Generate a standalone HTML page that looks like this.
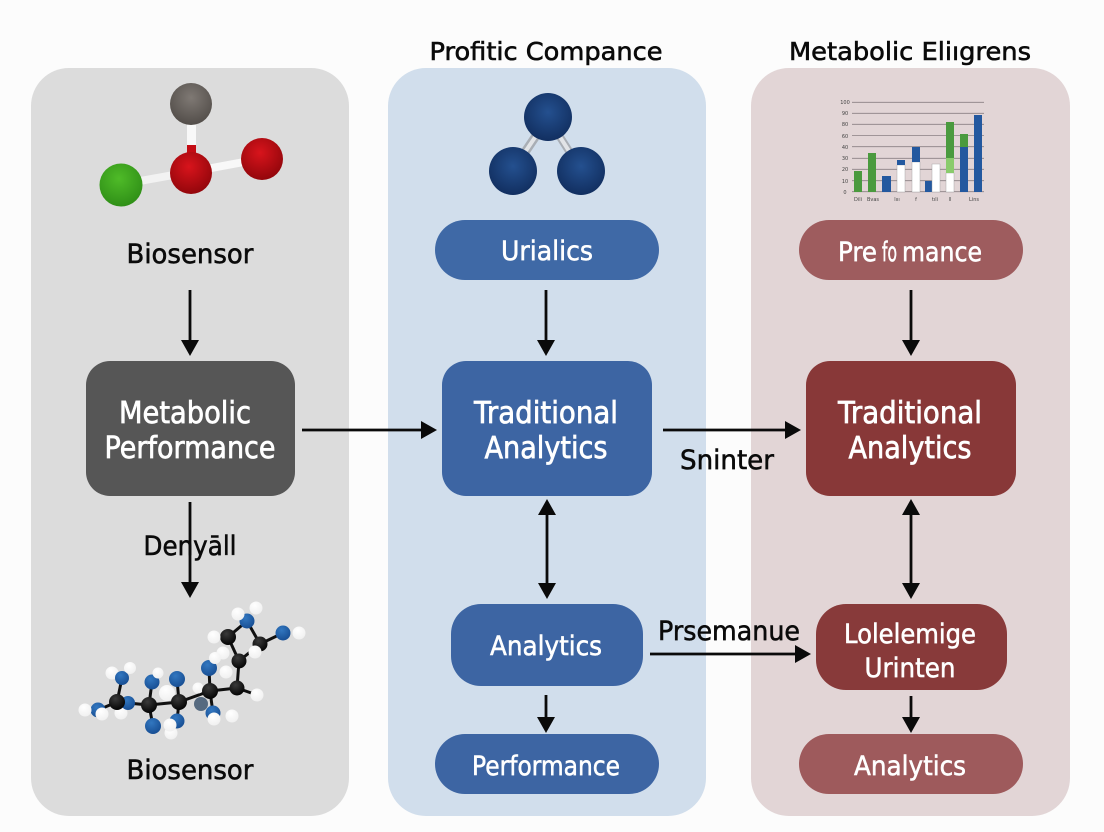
<!DOCTYPE html>
<html>
<head>
<meta charset="utf-8">
<style>
html,body{margin:0;padding:0;background:#fcfcfc;width:1104px;height:832px;overflow:hidden}
svg{display:block}
text{font-family:"DejaVu Sans","Liberation Sans",sans-serif;text-anchor:middle}
.w{fill:#fff;stroke:#fff;stroke-width:.55;font-size:27px}
.wb{fill:#fff;stroke:#fff;stroke-width:.7;font-size:30px}
.k{fill:#0a0a0a;stroke:#0a0a0a;stroke-width:.55;font-size:27px}
.a{stroke:#0a0a0a;stroke-width:2.8;fill:none}
.h{fill:#0a0a0a}
.grid{stroke:#8a8084;stroke-width:.8}
.tick{fill:#444;font-size:5px}
</style>
</head>
<body>
<svg width="1104" height="832" viewBox="0 0 1104 832" xmlns="http://www.w3.org/2000/svg">
<defs>
<radialGradient id="gy" cx=".5" cy=".35" r=".7"><stop offset="0" stop-color="#7f7974"/><stop offset="1" stop-color="#4f4a46"/></radialGradient>
<radialGradient id="rd" cx=".45" cy=".35" r=".7"><stop offset="0" stop-color="#d8141c"/><stop offset="1" stop-color="#8e050a"/></radialGradient>
<radialGradient id="gn" cx=".45" cy=".35" r=".7"><stop offset="0" stop-color="#4fbb28"/><stop offset="1" stop-color="#2d8c16"/></radialGradient>
<radialGradient id="nv" cx=".5" cy=".4" r=".65"><stop offset="0" stop-color="#24508f"/><stop offset="1" stop-color="#102c5c"/></radialGradient>
<radialGradient id="bk" cx=".4" cy=".3" r=".7"><stop offset="0" stop-color="#3a3a3a"/><stop offset="1" stop-color="#050505"/></radialGradient>
<radialGradient id="bl" cx=".4" cy=".3" r=".7"><stop offset="0" stop-color="#3277c0"/><stop offset="1" stop-color="#184f94"/></radialGradient>
<radialGradient id="wh" cx=".4" cy=".3" r=".9"><stop offset="0" stop-color="#fff"/><stop offset="1" stop-color="#ececec"/></radialGradient>
</defs>

<rect x="31" y="68" width="318" height="748" rx="38" fill="#dcdcdc"/>
<rect x="388" y="68" width="318" height="748" rx="38" fill="#d1deec"/>
<rect x="751" y="68" width="319" height="748" rx="38" fill="#e2d5d6"/>

<text x="546" y="60" style="font-size:25px;stroke:#0a0a0a;stroke-width:.6" fill="#0a0a0a" textLength="233" lengthAdjust="spacingAndGlyphs">Profitic Compance</text>
<text x="910" y="60" style="font-size:25px;stroke:#0a0a0a;stroke-width:.6" fill="#0a0a0a" textLength="242" lengthAdjust="spacingAndGlyphs">Metabolic Eliıgrens</text>

<!-- molecule 1 -->
<g>
<line x1="191.500" y1="115" x2="191.500" y2="150" stroke="#f8f8f8" stroke-width="9"/>
<line x1="191.500" y1="145" x2="191.500" y2="158" stroke="#c40c14" stroke-width="9"/>
<line x1="140" y1="181" x2="190" y2="172" stroke="#f2f2f2" stroke-width="8"/>
<line x1="190" y1="172" x2="244" y2="162" stroke="#f8f8f8" stroke-width="8"/>
<circle cx="191" cy="104" r="21" fill="url(#gy)"/>
<circle cx="121" cy="185" r="21.5" fill="url(#gn)"/>
<circle cx="191" cy="173" r="21" fill="url(#rd)"/>
<circle cx="262" cy="159" r="21" fill="url(#rd)"/>
</g>

<!-- molecule navy -->
<g>
<line x1="548" y1="118" x2="513" y2="170" stroke="#a9aeb5" stroke-width="9"/>
<line x1="548" y1="118" x2="513" y2="170" stroke="#e2e4e7" stroke-width="4"/>
<line x1="548" y1="118" x2="581" y2="170" stroke="#a9aeb5" stroke-width="8"/>
<line x1="548" y1="118" x2="581" y2="170" stroke="#e2e4e7" stroke-width="4"/>
<circle cx="548" cy="117" r="24" fill="url(#nv)"/>
<circle cx="513" cy="171" r="24" fill="url(#nv)"/>
<circle cx="581" cy="171" r="24" fill="url(#nv)"/>
</g>

<!-- chart -->
<g>
<g class="grid">
<line x1="852" y1="102.3" x2="984" y2="102.3"/><line x1="852" y1="113.3" x2="984" y2="113.3"/><line x1="852" y1="124.3" x2="984" y2="124.3"/><line x1="852" y1="135.6" x2="984" y2="135.6"/><line x1="852" y1="146.7" x2="984" y2="146.7"/><line x1="852" y1="158.3" x2="984" y2="158.3"/><line x1="852" y1="169.3" x2="984" y2="169.3"/><line x1="852" y1="180.7" x2="984" y2="180.7"/><line x1="852" y1="191.7" x2="984" y2="191.7"/>
</g>
<rect x="854" y="171" width="8" height="21" fill="#4a9a3e"/>
<rect x="868" y="153" width="8" height="39" fill="#4a9a3e"/>
<rect x="882" y="176" width="9" height="16" fill="#23589f"/>
<rect x="897" y="165" width="8" height="27" fill="#fff" stroke="#999" stroke-width=".4"/>
<rect x="897" y="160" width="8" height="5" fill="#23589f"/>
<rect x="912" y="162" width="8" height="30" fill="#fff" stroke="#999" stroke-width=".4"/>
<rect x="912" y="147" width="8" height="15" fill="#23589f"/>
<rect x="925" y="181" width="8" height="11" fill="#23589f"/>
<rect x="932" y="164" width="8" height="28" fill="#fff" stroke="#999" stroke-width=".4"/>
<rect x="946" y="173" width="8" height="19" fill="#fff" stroke="#999" stroke-width=".4"/>
<rect x="946" y="158" width="8" height="15" fill="#8acb6c"/>
<rect x="946" y="122" width="8" height="36" fill="#4a9a3e"/>
<rect x="960" y="147" width="8" height="45" fill="#23589f"/>
<rect x="960" y="134" width="8" height="13" fill="#4a9a3e"/>
<rect x="974" y="115" width="8" height="77" fill="#23589f"/>
<g class="tick">
<text x="845" y="104">100</text><text x="845" y="115">90</text><text x="845" y="126">80</text><text x="845" y="138">60</text><text x="845" y="149">40</text><text x="845" y="160">30</text><text x="845" y="171">20</text><text x="845" y="183">10</text><text x="845" y="194">0</text>
<text x="858" y="201">Dili</text><text x="873" y="201">Bvas</text><text x="897" y="201">lııı</text><text x="916" y="201">f</text><text x="935" y="201">tıli</text><text x="950" y="201">ll</text><text x="974" y="201">Lins</text>
</g>
</g>

<!-- molecule 2 -->
<g stroke="#101010" stroke-width="3" fill="none">
<path d="M117 702 L149 705 L179 702 L210 691 L237 688 L239 661 L228 637 L247 621 L260 644 L239 661"/>
<path d="M117 702 L122 678 M117 702 L128 703 M117 702 L98 710 M149 705 L152 682 M149 705 L153 726 M179 702 L177 679 M179 702 L177 721 M210 691 L209 668 M210 691 L213 713 M260 644 L283 633 M237 688 L257 695"/>
</g>
<g fill="url(#wh)">
<circle cx="112" cy="673" r="6.500"/><circle cx="121" cy="713" r="6.500"/><circle cx="167" cy="693" r="8"/><circle cx="171" cy="733" r="6.500"/><circle cx="198" cy="688" r="5.500"/><circle cx="223" cy="653" r="6.500"/><circle cx="226" cy="672" r="6.500"/>
</g>
<g fill="url(#bl)">
<circle cx="122" cy="678" r="7"/><circle cx="128" cy="703" r="7"/><circle cx="98" cy="710" r="7.500"/><circle cx="152" cy="682" r="7.500"/><circle cx="177" cy="679" r="8"/><circle cx="153" cy="726" r="8"/><circle cx="177" cy="721" r="7.500"/><circle cx="209" cy="668" r="8"/><circle cx="213" cy="713" r="7.500"/><circle cx="247" cy="621" r="7.500"/><circle cx="283" cy="633" r="7.500"/>
</g>
<circle cx="201" cy="704" r="7" fill="#566a80"/>
<g fill="url(#bk)">
<circle cx="117" cy="702" r="8"/><circle cx="149" cy="705" r="8"/><circle cx="179" cy="702" r="8"/><circle cx="210" cy="691" r="8"/><circle cx="237" cy="688" r="7.500"/><circle cx="239" cy="661" r="7.500"/><circle cx="228" cy="637" r="8"/><circle cx="260" cy="644" r="7.500"/>
</g>
<g fill="url(#wh)">
<circle cx="130" cy="668" r="6"/><circle cx="85" cy="710" r="6.500"/><circle cx="102" cy="714" r="6.500"/><circle cx="158" cy="673" r="5.500"/><circle cx="170" cy="725" r="6.500"/><circle cx="215" cy="658" r="6"/><circle cx="257" cy="695" r="6.500"/><circle cx="232" cy="716" r="6.500"/><circle cx="214" cy="719" r="6.500"/><circle cx="214" cy="637" r="6.500"/><circle cx="238" cy="614" r="6.500"/><circle cx="256" cy="608" r="6.500"/><circle cx="255" cy="652" r="6.500"/><circle cx="299" cy="633" r="6.500"/>
</g>

<!-- nodes -->
<rect x="86" y="361" width="209" height="135" rx="24" fill="#565656"/>
<rect x="442" y="361" width="210" height="135" rx="24" fill="#3d65a3"/>
<rect x="806" y="361" width="210" height="135" rx="24" fill="#883838"/>
<rect x="435" y="220" width="224" height="60" rx="30" fill="#3f69a6"/>
<rect x="799" y="220" width="224" height="60" rx="30" fill="#9e5c5e"/>
<rect x="451" y="604" width="192" height="82" rx="30" fill="#3d65a3"/>
<rect x="816" y="604" width="191" height="86" rx="30" fill="#883a3a"/>
<rect x="435" y="734" width="224" height="60" rx="30" fill="#3d65a3"/>
<rect x="799" y="734" width="224" height="60" rx="30" fill="#9e5a5c"/>

<!-- labels -->
<text class="k" x="190" y="263" textLength="127" lengthAdjust="spacingAndGlyphs">Biosensor</text>
<text class="k" x="190" y="779" textLength="127" lengthAdjust="spacingAndGlyphs">Biosensor</text>
<text class="k" x="190" y="555" textLength="93" lengthAdjust="spacingAndGlyphs">Denyāll</text>
<text class="k" x="727" y="469" textLength="94" lengthAdjust="spacingAndGlyphs">Sninter</text>
<text class="k" x="729" y="640" textLength="142" lengthAdjust="spacingAndGlyphs">Prsemanue</text>

<text class="wb" x="185" y="423" textLength="132" lengthAdjust="spacingAndGlyphs">Metabolic</text>
<text class="wb" x="190" y="458" textLength="171" lengthAdjust="spacingAndGlyphs">Performance</text>
<text class="wb" x="546" y="423" textLength="144" lengthAdjust="spacingAndGlyphs">Traditional</text>
<text class="wb" x="546" y="458" textLength="123" lengthAdjust="spacingAndGlyphs">Analytics</text>
<text class="wb" x="910" y="423" textLength="144" lengthAdjust="spacingAndGlyphs">Traditional</text>
<text class="wb" x="910" y="458" textLength="123" lengthAdjust="spacingAndGlyphs">Analytics</text>
<text class="w" x="547" y="260" textLength="92" lengthAdjust="spacingAndGlyphs">Urialics</text>
<text class="w" x="857.500" y="261" textLength="39" lengthAdjust="spacingAndGlyphs">Pre</text>
<text class="w" x="889.500" y="261" textLength="15" lengthAdjust="spacingAndGlyphs">fo</text>
<text class="w" x="942" y="261" textLength="80" lengthAdjust="spacingAndGlyphs">mance</text>
<text class="w" x="546" y="655" textLength="112" lengthAdjust="spacingAndGlyphs">Analytics</text>
<text class="w" x="910" y="643" textLength="132" lengthAdjust="spacingAndGlyphs">Lolelemige</text>
<text class="w" x="910" y="677" textLength="91" lengthAdjust="spacingAndGlyphs">Urinten</text>
<text class="w" x="546" y="775" textLength="148" lengthAdjust="spacingAndGlyphs">Performance</text>
<text class="w" x="910" y="775" textLength="112" lengthAdjust="spacingAndGlyphs">Analytics</text>

<!-- arrows -->
<g class="a">
<line x1="190" y1="290" x2="190" y2="342"/>
<line x1="546" y1="290" x2="546" y2="342"/>
<line x1="911" y1="290" x2="911" y2="342"/>
<line x1="190" y1="502" x2="190" y2="584"/>
<line x1="302" y1="430" x2="424" y2="430"/>
<line x1="663" y1="430" x2="788" y2="430"/>
<line x1="650" y1="654" x2="798" y2="654"/>
<line x1="547" y1="512" x2="547" y2="586"/>
<line x1="911" y1="512" x2="911" y2="586"/>
<line x1="546" y1="695" x2="546" y2="720"/>
<line x1="911" y1="696" x2="911" y2="720"/>
</g>
<g class="h">
<path d="M181 340H199L190 356Z"/>
<path d="M537 340H555L546 356Z"/>
<path d="M902 340H920L911 356Z"/>
<path d="M181 582H199L190 598Z"/>
<path d="M421 421V439L437 430Z"/>
<path d="M785 421V439L801 430Z"/>
<path d="M795 645V663L811 654Z"/>
<path d="M538 515H556L547 499Z"/>
<path d="M538 583H556L547 599Z"/>
<path d="M902 515H920L911 499Z"/>
<path d="M902 583H920L911 599Z"/>
<path d="M537 717H555L546 733Z"/>
<path d="M902 717H920L911 733Z"/>
</g>
</svg>
</body>
</html>
